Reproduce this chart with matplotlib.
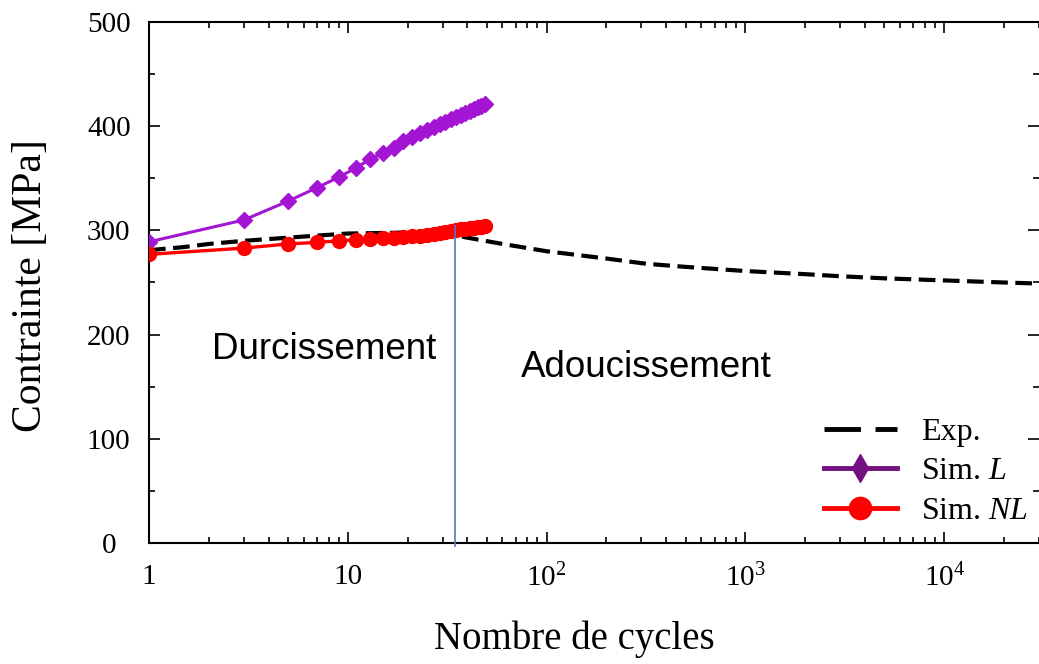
import numpy as np
import matplotlib
matplotlib.use('Agg')
import matplotlib.pyplot as plt
from matplotlib.lines import Line2D
from matplotlib.ticker import FixedLocator, FixedFormatter, LogLocator, NullFormatter, MultipleLocator

plt.rcParams['font.family'] = ['Liberation Serif', 'DejaVu Serif']
plt.rcParams['mathtext.fontset'] = 'custom'
plt.rcParams['mathtext.rm'] = 'Liberation Serif'
plt.rcParams['mathtext.it'] = 'Liberation Serif:italic'

# experimental curve (cycles, stress MPa)
exp_cycles = [1, 1.5, 2, 3, 5, 7, 10, 15, 20, 30, 40, 60, 100, 200, 316,
              500, 1000, 2000, 3000, 5000, 10000, 20000, 30000]
exp_stress = [281, 284, 287, 290, 293, 295, 297, 297.5, 298, 297.5, 293, 287, 280,
              273, 268, 265, 261, 258, 256, 254, 252, 250, 249]

# simulations, odd cycles 1..49
sim_cycles = [1, 3, 5, 7, 9, 11, 13, 15, 17, 19, 21, 23, 25, 27, 29, 31, 33,
              35, 37, 39, 41, 43, 45, 47, 49]
sim_l = [289, 310, 328, 341, 351, 360, 368.5, 374, 379, 386, 390, 393, 396, 399,
         402, 404, 407, 409, 411, 413, 414.5, 416.5, 418, 419.5, 421]
sim_nl = [277, 283, 287, 288.5, 290, 291, 292, 292.5, 293, 294, 294.5, 295, 296,
          296.5, 297.5, 298.5, 299.5, 300, 301, 301.5, 302, 302.5, 303, 303.5, 304]

boundary_cycle = 34.5
boundary_top = 305

xtick_vals = [1, 10, 100, 1000, 10000]
xtick_labels = ['1', '10', '$10^2$', '$10^3$', '$10^4$']

purple = '#A315D2'
red = '#FF0000'

fig = plt.figure(figsize=(10.39, 6.64), dpi=100)
ax = fig.add_axes([0.1434, 0.1822, 0.8566, 0.7847])

ax.plot(exp_cycles, exp_stress, color='black', lw=3.0, ls=(0, (4, 1.8)), zorder=2)
ax.plot(sim_cycles, sim_l, color=purple, lw=2.2, marker='D', ms=8.5, zorder=3)
ax.plot(sim_cycles, sim_nl, color=red, lw=2.4, marker='o', ms=10, zorder=4)
ax.vlines(boundary_cycle, -4, boundary_top, color='#4A7EBB', lw=1.2, zorder=5, clip_on=False)

ax.set_xscale('log')
ax.set_xlim(1, 3e4)
ax.set_ylim(0, 500)

ax.xaxis.set_major_locator(FixedLocator(xtick_vals))
ax.xaxis.set_major_formatter(FixedFormatter(xtick_labels))
ax.xaxis.set_minor_locator(LogLocator(base=10, subs=np.arange(2, 10)))
ax.xaxis.set_minor_formatter(NullFormatter())
ax.yaxis.set_major_locator(MultipleLocator(100))
ax.yaxis.set_minor_locator(MultipleLocator(50))

ax.tick_params(which='both', direction='in', top=True, right=True, width=1.2)
ax.tick_params(which='major', length=8)
ax.tick_params(which='minor', length=4.5)
ax.tick_params(axis='x', labelsize=21, pad=15)
ax.tick_params(axis='y', labelsize=21, pad=29)
for lab in ax.get_yticklabels():
    lab.set_ha('center')

ax.spines['right'].set_visible(False)
for s in ['left', 'bottom', 'top']:
    ax.spines[s].set_linewidth(1.5)

ax.set_xlabel('Nombre de cycles', fontsize=28)
ax.set_ylabel('Contrainte [MPa]', fontsize=30)
ax.xaxis.set_label_coords(0.4775, -0.148)
ax.yaxis.set_label_coords(-0.111, 0.495)

ax.text(2.07, 186, 'Durcissement', family='Liberation Sans', fontsize=26.5, va='center')
ax.text(74, 168, 'Adoucissement', family='Liberation Sans', fontsize=26.5, va='center')

handles = [
    Line2D([], [], color='black', lw=3.5, ls=(0, (7.5, 3))),
    Line2D([], [], color='#74107F', lw=3.5, marker='d', ms=14),
    Line2D([], [], color=red, lw=3.5, marker='o', ms=16),
]
ax.legend(handles, ['Exp.', 'Sim. $L$', 'Sim. $NL$'], loc='lower right',
          bbox_to_anchor=(1.013, -0.01), frameon=False, fontsize=23,
          handlelength=2.3, handletextpad=0.75, labelspacing=0.32,
          borderaxespad=0.3)

fig.savefig('out.png', dpi=100)
